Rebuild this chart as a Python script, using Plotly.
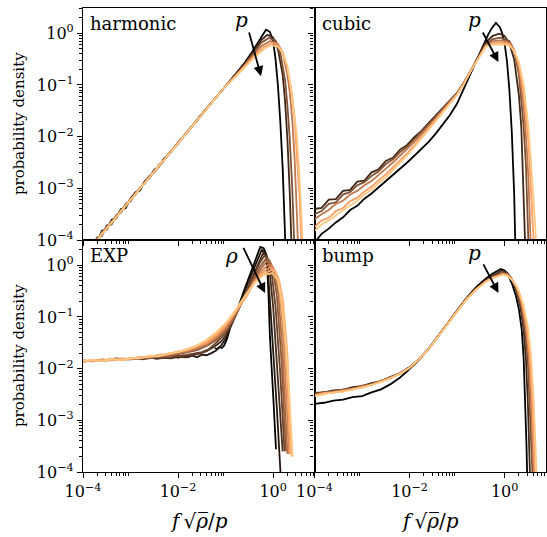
import plotly.graph_objects as go
from plotly.subplots import make_subplots

# ---------------- data (log10 values) ----------------
# harmonic: shared low-x grid, per-curve noisy low part + per-curve peak part
harm_low_x = [-4.0, -3.85, -3.7, -3.6, -3.5, -3.4, -3.3, -3.2, -3.1, -3.0, -2.9, -2.8,
              -2.7, -2.6, -2.5, -2.4, -2.3, -2.2, -2.0, -1.8, -1.6, -1.4, -1.2]
harm_low_y = [
    [-4.32, -4.1, -4.03, -3.82, -3.8, -3.61, -3.57, -3.40, -3.38, -3.19, -3.09, -3.04, -2.86, -2.80, -2.64, -2.58, -2.43, -2.35, -2.11, -1.91, -1.67, -1.46, -1.24],
    [-4.28, -4.2, -3.95, -3.92, -3.72, -3.7, -3.52, -3.47, -3.30, -3.25, -3.08, -3.02, -2.88, -2.76, -2.69, -2.55, -2.46, -2.33, -2.13, -1.89, -1.69, -1.45, -1.24],
    [-4.35, -4.12, -4.02, -3.85, -3.79, -3.63, -3.58, -3.42, -3.35, -3.2, -3.13, -2.98, -2.91, -2.77, -2.68, -2.57, -2.44, -2.35, -2.12, -1.9, -1.68, -1.46, -1.24],
    [-4.3, -4.18, -3.97, -3.9, -3.74, -3.68, -3.53, -3.46, -3.31, -3.24, -3.1, -3.01, -2.88, -2.79, -2.66, -2.57, -2.45, -2.34, -2.12, -1.91, -1.68, -1.46, -1.24],
    [-4.34, -4.14, -4.01, -3.86, -3.78, -3.65, -3.56, -3.43, -3.34, -3.21, -3.12, -2.99, -2.9, -2.78, -2.68, -2.55, -2.46, -2.34, -2.13, -1.9, -1.68, -1.46, -1.24],
    [-4.31, -4.17, -4.0, -3.89, -3.76, -3.67, -3.54, -3.45, -3.32, -3.23, -3.11, -3.0, -2.89, -2.78, -2.67, -2.56, -2.45, -2.34, -2.12, -1.9, -1.68, -1.46, -1.24],
]
harm_high_x = [
    [-1.0, -0.8, -0.6, -0.45, -0.3, -0.2, -0.15, -0.07, 0.0, 0.05, 0.1, 0.15, 0.2, 0.25, 0.3],
    [-1.0, -0.8, -0.6, -0.4, -0.25, -0.12, 0.0, 0.1, 0.2, 0.25, 0.3, 0.35, 0.4],
    [-1.0, -0.8, -0.6, -0.4, -0.25, -0.09, 0.05, 0.15, 0.25, 0.3, 0.35, 0.4, 0.45, 0.5],
    [-1.0, -0.8, -0.6, -0.4, -0.25, -0.06, 0.1, 0.2, 0.3, 0.35, 0.4, 0.45, 0.5, 0.55],
    [-1.0, -0.8, -0.6, -0.4, -0.2, -0.03, 0.1, 0.2, 0.3, 0.4, 0.45, 0.5, 0.55, 0.6, 0.65],
    [-1.0, -0.8, -0.6, -0.4, -0.2, -0.1, -0.01, 0.1, 0.2, 0.3, 0.4, 0.5, 0.55, 0.6, 0.65, 0.7],
]
harm_high_y = [
    [-1.02, -0.8, -0.57, -0.37, -0.16, -0.02, 0.07, 0.03, -0.15, -0.5, -1.0, -1.7, -2.6, -3.9, -5.5],
    [-1.02, -0.81, -0.59, -0.33, -0.13, -0.03, -0.08, -0.3, -0.8, -1.3, -2.05, -3.1, -4.5],
    [-1.02, -0.82, -0.61, -0.37, -0.18, -0.09, -0.14, -0.38, -0.9, -1.4, -2.05, -2.95, -4.1, -5.5],
    [-1.02, -0.83, -0.63, -0.41, -0.25, -0.149, -0.2, -0.38, -0.8, -1.15, -1.65, -2.4, -3.5, -4.8],
    [-1.02, -0.84, -0.64, -0.44, -0.27, -0.187, -0.22, -0.36, -0.65, -1.2, -1.65, -2.3, -3.1, -4.2, -5.5],
    [-1.02, -0.85, -0.66, -0.47, -0.31, -0.25, -0.232, -0.26, -0.38, -0.65, -1.2, -2.0, -2.7, -3.5, -4.4, -5.5],
]

# cubic
cub_low_x = [-4.0, -3.85, -3.7, -3.55, -3.4, -3.25, -3.1, -2.95, -2.8, -2.65, -2.5, -2.35,
             -2.2, -2.05, -1.9, -1.75, -1.6, -1.45, -1.3, -1.15, -1.0, -0.85, -0.67]
cub_low_y = [
    [-4.05, -3.88, -3.78, -3.66, -3.56, -3.42, -3.34, -3.2, -3.1, -2.98, -2.86, -2.75, -2.62, -2.5, -2.37, -2.24, -2.1, -1.94, -1.77, -1.58, -1.36, -1.05, -0.68],
    [-3.40, -3.38, -3.22, -3.21, -3.05, -3.03, -2.87, -2.85, -2.69, -2.63, -2.47, -2.41, -2.25, -2.16, -2.01, -1.89, -1.74, -1.6, -1.44, -1.3, -1.15, -0.94, -0.65],
    [-3.5, -3.44, -3.3, -3.27, -3.12, -3.07, -2.94, -2.88, -2.76, -2.67, -2.53, -2.44, -2.3, -2.19, -2.05, -1.91, -1.77, -1.62, -1.46, -1.31, -1.16, -0.94, -0.65],
    [-3.6, -3.5, -3.42, -3.3, -3.24, -3.12, -3.05, -2.94, -2.86, -2.73, -2.62, -2.5, -2.37, -2.24, -2.1, -1.95, -1.8, -1.64, -1.48, -1.32, -1.17, -0.95, -0.65],
    [-3.75, -3.62, -3.57, -3.44, -3.38, -3.25, -3.18, -3.06, -2.97, -2.84, -2.73, -2.6, -2.46, -2.32, -2.17, -2.01, -1.85, -1.68, -1.51, -1.35, -1.18, -0.96, -0.66],
    [-3.82, -3.7, -3.62, -3.52, -3.43, -3.33, -3.24, -3.12, -3.03, -2.9, -2.79, -2.65, -2.51, -2.36, -2.2, -2.04, -1.88, -1.7, -1.53, -1.36, -1.19, -0.97, -0.66],
]
cub_high_x = [
    [-0.55, -0.45, -0.35, -0.27, -0.184, -0.1, -0.05, 0.0, 0.05, 0.1, 0.15, 0.2, 0.23, 0.26],
    [-0.55, -0.4, -0.25, -0.115, 0.0, 0.1, 0.2, 0.3, 0.35, 0.4, 0.45],
    [-0.55, -0.4, -0.25, -0.08, 0.1, 0.2, 0.3, 0.4, 0.45, 0.5, 0.55],
    [-0.55, -0.4, -0.25, -0.06, 0.1, 0.2, 0.3, 0.4, 0.45, 0.5, 0.55, 0.6],
    [-0.55, -0.4, -0.25, -0.03, 0.1, 0.2, 0.3, 0.4, 0.5, 0.55, 0.6, 0.65],
    [-0.55, -0.4, -0.25, -0.01, 0.1, 0.2, 0.3, 0.4, 0.5, 0.55, 0.6, 0.65, 0.7],
]
cub_high_y = [
    [-0.42, -0.22, -0.03, 0.1, 0.2, 0.12, 0.0, -0.2, -0.55, -1.1, -1.9, -3.1, -4.2, -5.5],
    [-0.45, -0.18, -0.05, -0.006, -0.05, -0.2, -0.5, -1.2, -1.8, -2.9, -4.6],
    [-0.46, -0.22, -0.11, -0.083, -0.15, -0.33, -0.8, -1.8, -2.6, -3.9, -5.5],
    [-0.47, -0.24, -0.15, -0.135, -0.18, -0.33, -0.7, -1.4, -2.0, -2.8, -4.0, -5.5],
    [-0.48, -0.25, -0.19, -0.18, -0.21, -0.33, -0.6, -1.15, -2.1, -2.8, -3.6, -4.7],
    [-0.49, -0.26, -0.22, -0.213, -0.24, -0.34, -0.55, -1.0, -1.8, -2.4, -3.1, -3.85, -4.8],
]

# EXP (ten curves, darker ones start at larger f)
exp_x = [
    [-1.23, -1.18, -1.13, -1.08, -1.03, -0.97, -0.9, -0.8, -0.7, -0.6, -0.5, -0.4, -0.33, -0.27, -0.2, -0.14, -0.1, -0.067, 0.0, 0.06],
    [-2.1, -2.0, -1.9, -1.8, -1.7, -1.6, -1.5, -1.4, -1.3, -1.2, -1.1, -1.0, -0.9, -0.8, -0.7, -0.6, -0.5, -0.4, -0.3, -0.24, -0.17, -0.12, -0.08, 0.0, 0.08, 0.16],
    [-2.9, -2.75, -2.6, -2.45, -2.3, -2.15, -2.0, -1.85, -1.7, -1.55, -1.4, -1.25, -1.1, -1.0, -0.85, -0.7, -0.55, -0.4, -0.3, -0.21, -0.14, -0.08, 0.0, 0.1, 0.2],
    [-3.5, -3.3, -3.1, -2.9, -2.7, -2.5, -2.3, -2.1, -1.9, -1.7, -1.5, -1.35, -1.2, -1.0, -0.85, -0.7, -0.55, -0.4, -0.28, -0.18, -0.1, -0.03, 0.05, 0.15, 0.24],
    [-4.0, -3.8, -3.6, -3.4, -3.2, -3.0, -2.8, -2.6, -2.4, -2.2, -2.0, -1.8, -1.6, -1.4, -1.2, -1.0, -0.85, -0.7, -0.55, -0.4, -0.27, -0.15, -0.07, 0.0, 0.08, 0.18, 0.27],
    [-4.0, -3.8, -3.6, -3.4, -3.2, -3.0, -2.8, -2.6, -2.4, -2.2, -2.0, -1.8, -1.6, -1.4, -1.2, -1.0, -0.85, -0.7, -0.55, -0.4, -0.25, -0.13, -0.05, 0.03, 0.11, 0.2, 0.3],
    [-4.0, -3.8, -3.6, -3.4, -3.2, -3.0, -2.8, -2.6, -2.4, -2.2, -2.0, -1.8, -1.6, -1.4, -1.2, -1.0, -0.85, -0.7, -0.55, -0.4, -0.25, -0.1, -0.02, 0.06, 0.14, 0.23, 0.33],
    [-4.0, -3.8, -3.6, -3.4, -3.2, -3.0, -2.8, -2.6, -2.4, -2.2, -2.0, -1.8, -1.6, -1.4, -1.2, -1.0, -0.85, -0.7, -0.55, -0.4, -0.25, -0.07, 0.02, 0.1, 0.18, 0.27, 0.36],
    [-4.0, -3.8, -3.6, -3.4, -3.2, -3.0, -2.8, -2.6, -2.4, -2.2, -2.0, -1.8, -1.6, -1.4, -1.2, -1.0, -0.85, -0.7, -0.55, -0.4, -0.22, -0.04, 0.05, 0.13, 0.21, 0.3, 0.385],
    [-4.0, -3.8, -3.6, -3.4, -3.2, -3.0, -2.8, -2.6, -2.4, -2.2, -2.0, -1.8, -1.6, -1.4, -1.2, -1.0, -0.8, -0.6, -0.4, -0.2, -0.01, 0.1, 0.16, 0.27, 0.34, 0.41],
]
exp_y = [
    [-1.6, -1.62, -1.58, -1.6, -1.55, -1.42, -1.2, -0.97, -0.72, -0.46, -0.22, 0.04, 0.22, 0.356, 0.33, 0.2, -0.5, -1.4, -2.5, -3.56],
    [-1.76, -1.79, -1.74, -1.78, -1.75, -1.78, -1.73, -1.74, -1.7, -1.65, -1.56, -1.42, -1.18, -0.98, -0.75, -0.5, -0.27, -0.03, 0.2, 0.30, 0.25, 0.0, -0.5, -1.6, -2.8, -4.1],
    [-1.8, -1.82, -1.78, -1.81, -1.79, -1.8, -1.77, -1.78, -1.74, -1.71, -1.66, -1.58, -1.48, -1.37, -1.1, -0.8, -0.48, -0.15, 0.07, 0.24, 0.18, -0.05, -0.8, -2.2, -3.6],
    [-1.83, -1.8, -1.82, -1.79, -1.81, -1.78, -1.79, -1.76, -1.75, -1.72, -1.68, -1.62, -1.5, -1.32, -1.08, -0.8, -0.5, -0.2, 0.05, 0.19, 0.12, -0.15, -0.8, -2.1, -3.6],
    [-1.87, -1.84, -1.85, -1.83, -1.82, -1.82, -1.79, -1.8, -1.76, -1.76, -1.72, -1.69, -1.64, -1.56, -1.45, -1.28, -1.06, -0.8, -0.52, -0.24, -0.02, 0.13, 0.08, -0.1, -0.6, -1.9, -3.6],
    [-1.84, -1.86, -1.82, -1.84, -1.81, -1.82, -1.78, -1.78, -1.75, -1.74, -1.7, -1.67, -1.61, -1.54, -1.42, -1.24, -1.04, -0.79, -0.54, -0.28, -0.06, 0.08, 0.04, -0.12, -0.55, -1.7, -3.65],
    [-1.86, -1.83, -1.85, -1.82, -1.84, -1.79, -1.8, -1.76, -1.76, -1.72, -1.69, -1.65, -1.59, -1.52, -1.39, -1.2, -1.0, -0.79, -0.56, -0.32, -0.12, 0.02, -0.02, -0.15, -0.5, -1.6, -3.65],
    [-1.84, -1.86, -1.83, -1.83, -1.8, -1.81, -1.77, -1.77, -1.73, -1.72, -1.67, -1.64, -1.57, -1.5, -1.36, -1.17, -0.98, -0.78, -0.58, -0.33, -0.16, -0.04, -0.08, -0.22, -0.6, -1.6, -3.65],
    [-1.87, -1.84, -1.84, -1.81, -1.83, -1.8, -1.78, -1.77, -1.74, -1.72, -1.67, -1.63, -1.56, -1.47, -1.33, -1.15, -0.96, -0.77, -0.59, -0.34, -0.18, -0.09, -0.13, -0.3, -0.7, -1.7, -3.7],
    [-1.85, -1.83, -1.86, -1.82, -1.84, -1.79, -1.8, -1.75, -1.76, -1.7, -1.68, -1.62, -1.55, -1.44, -1.3, -1.12, -0.88, -0.6, -0.35, -0.19, -0.15, -0.3, -0.6, -1.55, -2.5, -3.7],
]

# bump
bump_low_x = [-4.0, -3.8, -3.6, -3.4, -3.2, -3.0, -2.8, -2.6, -2.4, -2.2, -2.0, -1.8,
              -1.6, -1.4, -1.2, -1.0, -0.8, -0.6, -0.4, -0.25]
bump_low_y = [
    [-2.68, -2.66, -2.62, -2.6, -2.55, -2.53, -2.46, -2.4, -2.3, -2.17, -2.01, -1.83, -1.62, -1.38, -1.12, -0.87, -0.63, -0.42, -0.26, -0.16],
    [-2.47, -2.46, -2.42, -2.41, -2.36, -2.34, -2.28, -2.24, -2.16, -2.09, -1.97, -1.81, -1.61, -1.37, -1.11, -0.87, -0.64, -0.45, -0.29, -0.2],
    [-2.49, -2.45, -2.45, -2.4, -2.39, -2.33, -2.31, -2.23, -2.18, -2.08, -1.98, -1.82, -1.62, -1.38, -1.12, -0.88, -0.65, -0.46, -0.31, -0.22],
    [-2.5, -2.48, -2.44, -2.43, -2.38, -2.36, -2.3, -2.25, -2.17, -2.1, -1.98, -1.82, -1.62, -1.38, -1.12, -0.88, -0.65, -0.46, -0.31, -0.23],
    [-2.52, -2.47, -2.47, -2.42, -2.41, -2.35, -2.32, -2.24, -2.19, -2.09, -1.99, -1.82, -1.62, -1.38, -1.12, -0.88, -0.65, -0.46, -0.32, -0.24],
    [-2.53, -2.5, -2.46, -2.45, -2.4, -2.37, -2.31, -2.26, -2.18, -2.1, -1.98, -1.82, -1.62, -1.38, -1.12, -0.88, -0.66, -0.47, -0.32, -0.25],
]
bump_high_x = [
    [-0.08, 0.0, 0.08, 0.16, 0.24, 0.3, 0.36, 0.4, 0.43, 0.46, 0.48],
    [-0.06, 0.05, 0.15, 0.25, 0.33, 0.4, 0.45, 0.49, 0.52, 0.55],
    [-0.05, 0.05, 0.15, 0.25, 0.35, 0.43, 0.49, 0.54, 0.58, 0.61],
    [-0.04, 0.05, 0.15, 0.25, 0.35, 0.45, 0.51, 0.56, 0.6, 0.64],
    [-0.03, 0.05, 0.15, 0.25, 0.35, 0.45, 0.53, 0.58, 0.62, 0.66],
    [-0.03, 0.05, 0.15, 0.23, 0.3, 0.4, 0.5, 0.56, 0.61, 0.65, 0.68],
]
bump_high_y = [
    [-0.07, -0.1, -0.2, -0.37, -0.6, -0.85, -1.25, -1.8, -2.5, -3.5, -4.3],
    [-0.1, -0.14, -0.27, -0.5, -0.8, -1.25, -1.85, -2.7, -3.6, -4.6],
    [-0.14, -0.16, -0.27, -0.45, -0.8, -1.3, -1.9, -2.8, -3.7, -4.6],
    [-0.16, -0.18, -0.27, -0.43, -0.72, -1.2, -1.8, -2.7, -3.7, -4.7],
    [-0.17, -0.19, -0.27, -0.41, -0.67, -1.1, -1.75, -2.6, -3.6, -4.7],
    [-0.18, -0.2, -0.28, -0.37, -0.5, -0.78, -1.25, -1.8, -2.6, -3.5, -4.3],
]

panel_names = ["harmonic", "cubic", "EXP", "bump"]
arrow_labels = ["<i>p</i>", "<i>p</i>", "<i>ρ</i>", "<i>p</i>"]
x_tick_exps = [-4, -2, 0]
y_tick_exps = [-4, -3, -2, -1, 0]

# ---------------- helpers ----------------
FONT = "DejaVu Serif"


def copper(t):
    r = min(1.0, 1.25 * t)
    g = 0.7812 * t
    b = 0.4975 * t
    return "rgb(%d,%d,%d)" % (round(255 * r), round(255 * g), round(255 * b))


def pw(v):
    return [10 ** a for a in v]


def sup(e):
    s = str(e).replace("-", "\u2212")
    return "10<sup>%s</sup>" % s


fig = make_subplots(rows=2, cols=2, horizontal_spacing=0, vertical_spacing=0)


def add_curves(xs_list, ys_list, row, col):
    n = len(xs_list)
    for i, (xs, ys) in enumerate(zip(xs_list, ys_list)):
        fig.add_trace(go.Scatter(x=pw(xs), y=pw(ys), mode="lines",
                                 line=dict(color=copper(i / (n - 1)), width=1.8),
                                 hoverinfo="skip"), row=row, col=col)


add_curves([harm_low_x + hx for hx in harm_high_x],
           [ly + hy for ly, hy in zip(harm_low_y, harm_high_y)], 1, 1)
add_curves([cub_low_x + hx for hx in cub_high_x],
           [ly + hy for ly, hy in zip(cub_low_y, cub_high_y)], 1, 2)
add_curves(exp_x, exp_y, 2, 1)
add_curves([bump_low_x + hx for hx in bump_high_x],
           [ly + hy for ly, hy in zip(bump_low_y, bump_high_y)], 2, 2)

# ---------------- axes ----------------
x_minor = [k * 10.0 ** e for e in x_tick_exps for k in range(2, 10)]
y_minor = [k * 10.0 ** e for e in y_tick_exps for k in range(2, 10)]

axis_common = dict(type="log", showgrid=False, zeroline=False, showline=True,
                   linecolor="black", linewidth=1.2, mirror=True, automargin=False,
                   ticks="outside", ticklen=5, tickwidth=1, tickcolor="black",
                   tickfont=dict(family=FONT, size=16, color="black"))

for r in (1, 2):
    for c in (1, 2):
        fig.update_xaxes(axis_common, range=[-4, 0.87],
                         tickmode="array", tickvals=[10.0 ** e for e in x_tick_exps],
                         ticktext=[sup(e) for e in x_tick_exps],
                         showticklabels=(r == 2),
                         minor=dict(tickmode="array", tickvals=x_minor, ticks="outside",
                                    ticklen=3, tickwidth=0.8, tickcolor="black", showgrid=False),
                         row=r, col=c)
        fig.update_yaxes(axis_common, range=[-4, 0.49],
                         tickmode="array", tickvals=[10.0 ** e for e in y_tick_exps],
                         ticktext=[sup(e) for e in y_tick_exps],
                         showticklabels=(c == 1),
                         minor=dict(tickmode="array", tickvals=y_minor, ticks="outside",
                                    ticklen=3, tickwidth=0.8, tickcolor="black", showgrid=False),
                         row=r, col=c)

# ---------------- annotations ----------------
axis_ids = [("x", "y"), ("x2", "y2"), ("x3", "y3"), ("x4", "y4")]
label_pos = [(-0.674, 0.25), (-0.638, 0.25), (-0.883, 0.174), (-0.638, 0.24)]
arrow_tail = [(-0.515, 0.044), (-0.477, 0.044), (-0.64, 0.367), (-0.464, 0.046)]
arrow_tip = [(-0.255, -0.83), (-0.13, -0.555), (-0.17, -0.534), (-0.13, -0.534)]

for k, (xa, ya) in enumerate(axis_ids):
    fig.add_annotation(text=panel_names[k], xref=xa + " domain", yref=ya + " domain",
                       x=0.022, y=0.985, xanchor="left", yanchor="top", showarrow=False,
                       font=dict(family=FONT, size=18, color="black"))
    fig.add_annotation(text=arrow_labels[k], xref=xa, yref=ya,
                       x=label_pos[k][0], y=label_pos[k][1], showarrow=False,
                       font=dict(family=FONT, size=20, color="black"))
    fig.add_annotation(text="", xref=xa, yref=ya, axref=xa, ayref=ya,
                       x=arrow_tip[k][0], y=arrow_tip[k][1],
                       ax=arrow_tail[k][0], ay=arrow_tail[k][1],
                       showarrow=True, arrowhead=2, arrowsize=1.1, arrowwidth=1.8,
                       arrowcolor="black", standoff=0, startstandoff=0)

for yc in (0.75, 0.25):
    fig.add_annotation(text="probability density", xref="paper", yref="paper",
                       x=-0.138, y=yc, textangle=-90, showarrow=False,
                       xanchor="center", yanchor="middle",
                       font=dict(family=FONT, size=15, color="black"))

for xc in (0.25, 0.75):
    fig.add_annotation(text="<i>f</i>\u2009\u221a<i>\u03c1\u0305</i>/<i>p</i>",
                       xref="paper", yref="paper", x=xc, y=-0.105,
                       showarrow=False, xanchor="center", yanchor="middle",
                       font=dict(family=FONT, size=20, color="black"))

fig.update_layout(width=547, height=537, showlegend=False,
                  margin=dict(l=83, r=1, t=8, b=65, autoexpand=False),
                  plot_bgcolor="white", paper_bgcolor="white")

fig.write_html("out.html", config={"displayModeBar": False},
               post_script="document.body.style.margin='0';document.body.style.overflow='hidden';")
